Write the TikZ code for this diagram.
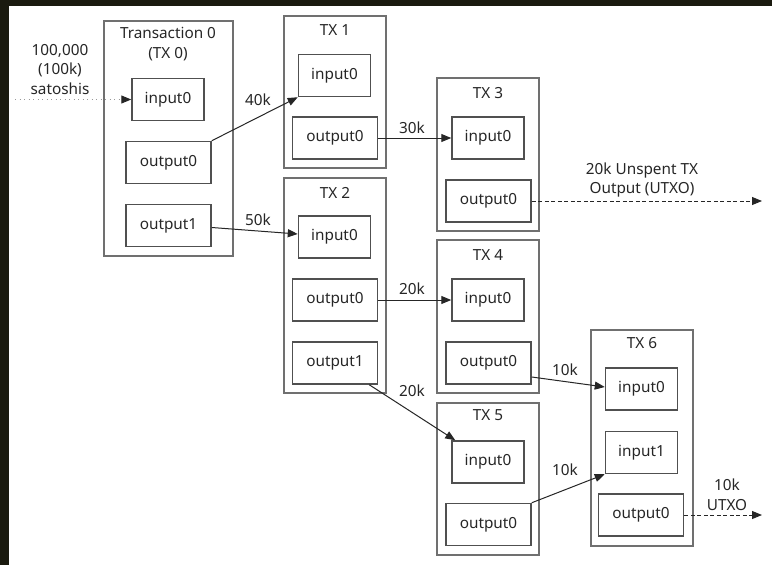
\documentclass[tikz,border=0pt]{standalone}
\usepackage{fontspec}
\setmainfont{Noto Sans}
\usetikzlibrary{arrows.meta,calc}
\definecolor{frame}{HTML}{1A1A0F}
\definecolor{outerline}{HTML}{707070}
\definecolor{innerline}{HTML}{505050}
\begin{document}
\begin{tikzpicture}[x=1pt,y=-1pt,
  every node/.style={font=\fontsize{15.3}{19.5}\selectfont, text=black!85},
  txbox/.style={draw=outerline, line width=1.5pt, minimum width=102pt, inner sep=0pt},
  inbox/.style={draw=innerline, line width=1.5pt, minimum width=72pt, minimum height=42pt, inner sep=0pt},
  outbox/.style={draw=innerline, line width=1.5pt, minimum width=85pt, minimum height=42pt, inner sep=0pt},
  title/.style={inner sep=0pt, align=center},
  lbl/.style={inner sep=0pt, align=center},
  flow/.style={draw=black!85, line width=1pt, -{Triangle[length=10pt,width=8pt]}},
  utxo/.style={flow, dash pattern=on 4pt off 2.5pt},
  fund/.style={draw=black!40, line width=1pt, dash pattern=on 1pt off 3.5pt, -{Triangle[length=10pt,width=8pt,color=black!85]}}
]
\useasboundingbox (0,0) rectangle (772,565);
\fill[frame] (0,0) rectangle (772,565);
\fill[white] (9,6) rectangle (772,565);

% transaction boxes
\node[txbox, minimum width=129pt, minimum height=235pt] (tx0) at (168.5,138.5) {};
\node[txbox, minimum height=152pt] (tx1) at (335,92) {};
\node[txbox, minimum height=215pt] (tx2) at (335,285.5) {};
\node[txbox, minimum height=153pt] (tx3) at (488,154.5) {};
\node[txbox, minimum height=153pt] (tx4) at (488,316.5) {};
\node[txbox, minimum height=152pt] (tx5) at (488,479) {};
\node[txbox, minimum height=216pt] (tx6) at (642,438) {};

% titles
\node[title] (t0) at (168,44) {Transaction 0\\(TX 0)};
\node[title] (t1) at (335,30) {TX 1};
\node[title] (t2) at (335,193) {TX 2};
\node[title] (t3) at (488,93) {TX 3};
\node[title] (t4) at (488,255) {TX 4};
\node[title] (t5) at (488,415) {TX 5};
\node[title] (t6) at (642,343) {TX 6};

% inputs and outputs
\node[inbox] (a0i0) at (168,99.5) {input0};
\node[outbox] (a0o0) at (168.5,162.5) {output0};
\node[outbox] (a0o1) at (168.5,225.5) {output1};
\node[inbox] (a1i0) at (334.5,75.5) {input0};
\node[outbox] (a1o0) at (335,138) {output0};
\node[inbox] (a2i0) at (334.5,237) {input0};
\node[outbox] (a2o0) at (335,300) {output0};
\node[outbox] (a2o1) at (335,363) {output1};
\node[inbox] (a3i0) at (488,138) {input0};
\node[outbox] (a3o0) at (488.5,201) {output0};
\node[inbox] (a4i0) at (488,300) {input0};
\node[outbox] (a4o0) at (488.5,363) {output0};
\node[inbox] (a5i0) at (488,462) {input0};
\node[outbox] (a5o0) at (488.5,524.5) {output0};
\node[inbox] (a6i0) at (641.5,389) {input0};
\node[inbox] (a6i1) at (641.5,452.5) {input1};
\node[outbox] (a6o0) at (641,515) {output0};

% free ends
\coordinate (src) at (15,99.5);
\coordinate (u3) at (762,201);
\coordinate (u6) at (762,515);

% connectors
\draw[fund] (src) -- (a0i0.west);
\draw[flow] (a0o0.north east) -- (a1i0.south west);
\draw[flow] ($(a0o1.east)+(0,2)$) -- ($(a2i0.west)+(0,-3)$);
\draw[flow] (a1o0.east) -- (a3i0.west);
\draw[flow] (a2o0.east) -- (a4i0.west);
\draw[flow] ($(a2o1.south east)+(-9,0)$) -- ($(a5i0.north west)+(4,0)$);
\draw[flow] ($(a4o0.east)+(0,14)$) -- ($(a6i0.west)+(0,-2)$);
\draw[flow] (a5o0.north east) -- (a6i1.south west);
\draw[utxo] (a3o0.east) -- (u3);
\draw[utxo] (a6o0.east) -- (u6);

% labels
\node[lbl] (lsrc) at (60,69.5) {100,000\\(100k)\\satoshis};
\node[lbl] (l40) at (258,100) {40k};
\node[lbl] (l50) at (258,220) {50k};
\node[lbl] (l30) at (412,128) {30k};
\node[lbl] (l20a) at (412,289) {20k};
\node[lbl] (l20b) at (412,391) {20k};
\node[lbl] (l10a) at (565,370) {10k};
\node[lbl] (l10b) at (565,470) {10k};
\node[lbl] (lu3) at (642,180) {20k Unspent TX\\Output (UTXO)};
\node[lbl] (lu6) at (727,495) {10k\\UTXO};
\end{tikzpicture}
\end{document}
